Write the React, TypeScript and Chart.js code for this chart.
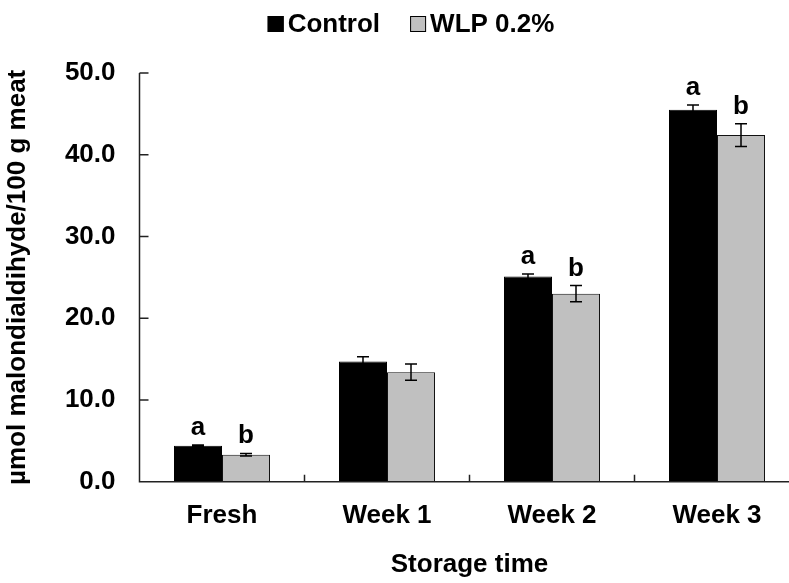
import { useEffect, useRef } from 'react';
import { Chart, registerables } from 'chart.js';
Chart.register(...registerables);

const categories = ['Fresh', 'Week 1', 'Week 2', 'Week 3'];
const seriesNames = ['Control', 'WLP 0.2%'];
const controlValues = [4.4, 14.7, 25.1, 45.5];
const controlErrors = [0.1, 0.6, 0.3, 0.6];
const wlpValues = [3.3, 13.4, 23.0, 42.4];
const wlpErrors = [0.15, 1.0, 1.0, 1.4];
const controlLetters = ['a', '', 'a', 'a'];
const wlpLetters = ['b', '', 'b', 'b'];
const yTicks = [0, 10, 20, 30, 40, 50];
const yTitle = 'µmol malondialdihyde/100 g meat';
const xTitle = 'Storage time';

const FONT = '"Liberation Sans", Arial, Helvetica, sans-serif';
const GREY = '#c0c0c0';
const FS = 26;

const overlay = {
  id: 'overlay',
  afterDraw(chart: any) {
    const ctx = chart.ctx;
    const ys = chart.scales.y;
    const xs = chart.scales.x;
    const area = chart.chartArea;
    const errs = [controlErrors, wlpErrors];
    const letters = [controlLetters, wlpLetters];
    ctx.save();
    // error bars and letters
    chart.data.datasets.forEach((ds: any, di: number) => {
      const meta = chart.getDatasetMeta(di);
      meta.data.forEach((bar: any, i: number) => {
        const v = ds.data[i];
        const e = errs[di][i];
        const top = ys.getPixelForValue(v + e);
        const bot = ys.getPixelForValue(v - e);
        const bx = bar.x;
        ctx.strokeStyle = '#000';
        ctx.lineWidth = 1.5;
        ctx.beginPath();
        ctx.moveTo(bx, top);
        ctx.lineTo(bx, bot);
        ctx.moveTo(bx - 6, top);
        ctx.lineTo(bx + 6, top);
        ctx.moveTo(bx - 6, bot);
        ctx.lineTo(bx + 6, bot);
        ctx.stroke();
        const t = letters[di][i];
        if (t) {
          ctx.font = `bold ${FS}px ${FONT}`;
          ctx.fillStyle = '#000';
          ctx.textAlign = 'center';
          ctx.textBaseline = 'alphabetic';
          ctx.fillText(t, bx, top - 10);
        }
      });
    });
    // axes lines
    ctx.strokeStyle = '#222';
    ctx.lineWidth = 1.5;
    ctx.beginPath();
    ctx.moveTo(area.left, area.top);
    ctx.lineTo(area.left, area.bottom);
    ctx.lineTo(area.right + 10, area.bottom);
    ctx.stroke();
    // inside ticks on y
    ctx.beginPath();
    yTicks.forEach((v) => {
      if (v === 0) return;
      const py = ys.getPixelForValue(v);
      ctx.moveTo(area.left, py);
      ctx.lineTo(area.left + 9, py);
    });
    // inside ticks on x at category boundaries
    const w = xs.getPixelForValue(1) - xs.getPixelForValue(0);
    for (let i = 1; i <= categories.length; i++) {
      const px = xs.getPixelForValue(i) - w / 2;
      ctx.moveTo(px, area.bottom);
      ctx.lineTo(px, area.bottom - 7);
    }
    ctx.stroke();
    // legend
    ctx.font = `bold ${FS}px ${FONT}`;
    ctx.textBaseline = 'middle';
    ctx.textAlign = 'left';
    const box = 16;
    const gap = 4;
    const spacing = 30;
    const fills = ['#000', GREY];
    const widths = seriesNames.map((n) => box + gap + ctx.measureText(n).width);
    const total = widths.reduce((a, b) => a + b, 0) + spacing * (seriesNames.length - 1);
    let lx = 411 - total / 2;
    const ly = 24;
    seriesNames.forEach((n, i) => {
      ctx.fillStyle = fills[i];
      ctx.fillRect(lx, ly - box / 2, box, box);
      ctx.strokeStyle = '#000';
      ctx.lineWidth = 1;
      ctx.strokeRect(lx + 0.5, ly - box / 2 + 0.5, box - 1, box - 1);
      ctx.fillStyle = '#000';
      ctx.fillText(n, lx + box + gap, ly + 1);
      lx += widths[i] + spacing;
    });
    ctx.restore();
  },
};

export default function App() {
  const ref = useRef<HTMLCanvasElement | null>(null);
  useEffect(() => {
    document.body.style.margin = '0';
    if (!ref.current) return;
    const chart = new Chart(ref.current, {
      type: 'bar',
      data: {
        labels: categories,
        datasets: [
          {
            label: seriesNames[0],
            data: controlValues,
            backgroundColor: '#000',
            borderColor: '#000',
            borderWidth: 1,
          },
          {
            label: seriesNames[1],
            data: wlpValues,
            backgroundColor: GREY,
            borderColor: '#111',
            borderWidth: 1,
          },
        ],
      },
      options: {
        animation: false,
        responsive: false,
        devicePixelRatio: 1,
        datasets: { bar: { categoryPercentage: 0.582, barPercentage: 1 } },
        layout: { padding: { top: 73, right: 5.5, left: 0, bottom: 0 } },
        plugins: { legend: { display: false }, tooltip: { enabled: false } },
        scales: {
          x: {
            grid: { display: false, drawTicks: false },
            border: { display: false },
            ticks: { color: '#000', padding: 19, font: { family: FONT, size: FS, weight: 'bold' } },
            title: {
              display: true,
              text: xTitle,
              color: '#000',
              padding: { top: 0, bottom: 3 },
              font: { family: FONT, size: FS, weight: 'bold' },
            },
            afterFit: (s: any) => {
              s.height = 101.3;
            },
          },
          y: {
            min: 0,
            max: 50,
            grid: { display: false, drawTicks: false },
            border: { display: false },
            afterBuildTicks: (s: any) => {
              s.ticks = yTicks.map((v) => ({ value: v }));
            },
            ticks: {
              color: '#000',
              padding: 24,
              font: { family: FONT, size: FS, weight: 'bold' },
              callback: (v: any) => Number(v).toFixed(1),
            },
            title: {
              display: true,
              text: yTitle,
              color: '#000',
              padding: { top: 2, bottom: 0 },
              font: { family: FONT, size: FS, weight: 'bold' },
            },
            afterFit: (s: any) => {
              s.width = 139.5;
            },
          },
        },
      },
      plugins: [overlay],
    });
    return () => chart.destroy();
  }, []);
  return (
    <div style={{ width: 789, height: 583, overflow: 'hidden', background: '#fff' }}>
      <canvas ref={ref} width={805} height={583} style={{ display: 'block', width: 805, height: 583 }} />
    </div>
  );
}
